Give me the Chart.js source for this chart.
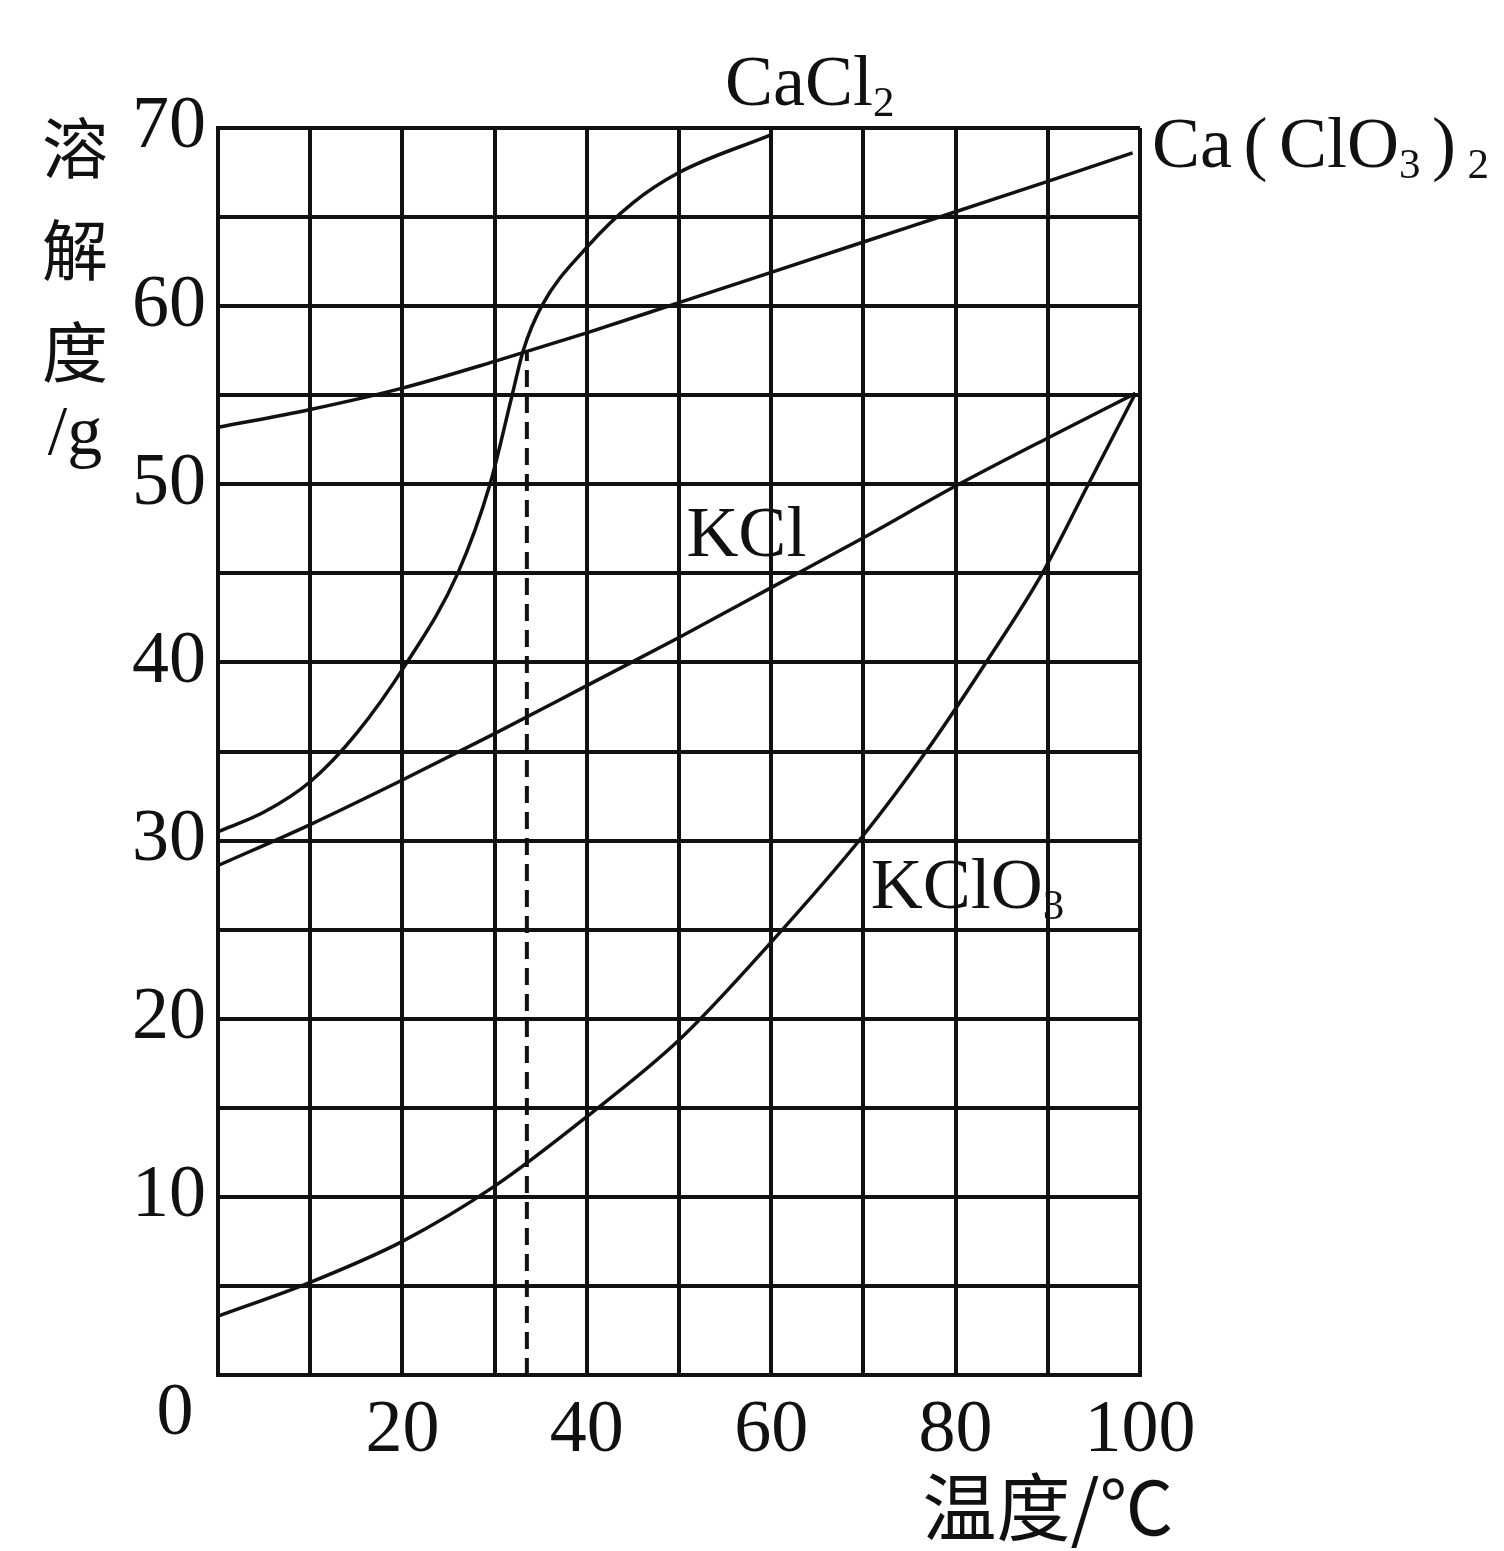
<!DOCTYPE html>
<html><head><meta charset="utf-8">
<script src="https://cdn.jsdelivr.net/npm/chart.js@4/dist/chart.umd.min.js"></script>
<style>html,body{margin:0;padding:0;background:#fff;overflow:hidden}</style>
</head><body>
<canvas id="c" width="1504" height="1551"></canvas>
<script>
// ---- data ----
const xTickLabels = [20, 40, 60, 80, 100];
const yTickLabels = [10, 20, 30, 40, 50, 60, 70];

const caCl2X = [0, 5, 10, 15, 20.5, 26, 29.5, 31.9, 33.1, 35.1, 40, 45, 50, 59.9];
const caCl2Y = [30.5, 31.6, 33.3, 36.0, 40, 45, 50, 55, 57.5, 60, 63.3, 65.8, 67.5, 69.6];

const caClO32X = [0, 10, 20, 30, 40, 50, 60, 70, 80, 90, 99.2];
const caClO32Y = [53.2, 54.2, 55.4, 56.9, 58.5, 60.2, 61.9, 63.6, 65.3, 67.0, 68.6];

const kclX = [0, 10, 20, 30, 40, 50, 60, 70, 80, 90, 99.5];
const kclY = [28.6, 30.9, 33.4, 36.0, 38.7, 41.4, 44.2, 47.0, 49.9, 52.6, 55.1];

const kclo3X = [0, 10, 20, 30, 40, 50, 60, 70, 76.8, 83.3, 89.4, 94.4, 99.5];
const kclo3Y = [3.3, 5.2, 7.5, 10.6, 14.5, 18.8, 24.3, 30.3, 35, 40, 45, 50, 55.1];

const dashedX = [33.5, 33.5];
const dashedY = [0, 57.4];

const seriesNames = ['CaCl₂', 'Ca（ClO₃）₂', 'KCl', 'KClO₃'];
const yTitleChars = ['溶', '解', '度', '/g'];
const xTitle = '温度/℃';
const originLabel = '0';

// ---- build ----
const pts = (xs, ys) => xs.map((x, i) => ({x, y: ys[i]}));
const lineStyle = {borderColor: '#111', borderWidth: 3.5, pointRadius: 0, fill: false,
  cubicInterpolationMode: 'monotone', clip: false};

const SERIF = '"Liberation Serif", "Times New Roman", serif';
const CJK = '"Noto Sans CJK SC", sans-serif';
const subMap = {'₀':'0','₁':'1','₂':'2','₃':'3','₄':'4','₅':'5','₆':'6','₇':'7','₈':'8','₉':'9'};
const parenMap = {'（':'(', '）':')'};

function drawRich(ctx, text, x, y, size) {
  let cx = x;
  for (const ch of text) {
    if (subMap[ch]) {
      ctx.font = `${Math.round(size*0.6)}px ${SERIF}`;
      ctx.fillText(subMap[ch], cx, y + size*0.15);
      cx += ctx.measureText(subMap[ch]).width;
    } else if (parenMap[ch]) {
      ctx.font = `${size}px ${SERIF}`;
      cx += size*0.16;
      ctx.fillText(parenMap[ch], cx, y);
      cx += ctx.measureText(parenMap[ch]).width + size*0.16;
    } else {
      ctx.font = `${size}px ${SERIF}`;
      ctx.fillText(ch, cx, y);
      cx += ctx.measureText(ch).width;
    }
  }
}

const labelPlugin = {
  id: 'labels',
  afterDraw(chart) {
    const {ctx, scales: {x, y}} = chart;
    ctx.save();
    ctx.fillStyle = '#111';
    ctx.textBaseline = 'alphabetic';
    ctx.textAlign = 'left';
    const labelAt = [[55.0, 71.3], [101.3, 67.8], [50.8, 46.0], [70.8, 26.2]];
    seriesNames.forEach((s, i) => {
      drawRich(ctx, s, x.getPixelForValue(labelAt[i][0]), y.getPixelForValue(labelAt[i][1]), 72);
    });
    // origin "0"
    ctx.textAlign = 'center';
    ctx.textBaseline = 'middle';
    ctx.font = `74px ${SERIF}`;
    ctx.fillText(originLabel, x.getPixelForValue(0) - 43, y.getPixelForValue(0) + 40);
    // y title stacked
    const yPos = [148, 250, 352, 436];
    yTitleChars.forEach((c, i) => {
      ctx.font = (c === '/g') ? `70px ${SERIF}` : `66px ${CJK}`;
      ctx.fillText(c, 75, yPos[i]);
    });
    // x title
    ctx.font = `74px ${CJK}`;
    ctx.textBaseline = 'top';
    ctx.fillText(xTitle, 1048, 1470);
    ctx.restore();
  }
};

new Chart(document.getElementById('c'), {
  type: 'line',
  data: {
    datasets: [
      {label: seriesNames[0], data: pts(caCl2X, caCl2Y), ...lineStyle},
      {label: seriesNames[1], data: pts(caClO32X, caClO32Y), ...lineStyle},
      {label: seriesNames[2], data: pts(kclX, kclY), ...lineStyle},
      {label: seriesNames[3], data: pts(kclo3X, kclo3Y), ...lineStyle},
      {label: 'dashed', data: pts(dashedX, dashedY), borderColor: '#111', borderWidth: 4,
        borderDash: [17, 9], pointRadius: 0, tension: 0, clip: false}
    ]
  },
  options: {
    responsive: false,
    animation: false,
    devicePixelRatio: 1,
    layout: {padding: {top: 128, right: 364, left: 0, bottom: 0}},
    plugins: {legend: {display: false}, tooltip: {enabled: false}},
    scales: {
      x: {
        type: 'linear', min: 0, max: 100,
        afterFit: s => { s.height = 176; },
        ticks: {stepSize: 10, autoSkip: false, maxRotation: 0, padding: 12, color: '#111',
          font: {family: SERIF, size: 74},
          callback: v => xTickLabels.includes(v) ? String(v) : ''},
        grid: {color: '#111', lineWidth: 4, drawTicks: false},
        border: {color: '#111', width: 4}
      },
      y: {
        type: 'linear', min: 0, max: 70,
        afterFit: s => { s.width = 218; },
        ticks: {stepSize: 5, autoSkip: false, padding: 12, color: '#111',
          font: {family: SERIF, size: 74},
          callback: v => yTickLabels.includes(v) ? String(v) : ''},
        grid: {color: '#111', lineWidth: 4, drawTicks: false},
        border: {color: '#111', width: 4}
      }
    }
  },
  plugins: [labelPlugin]
});
</script>
</body></html>
